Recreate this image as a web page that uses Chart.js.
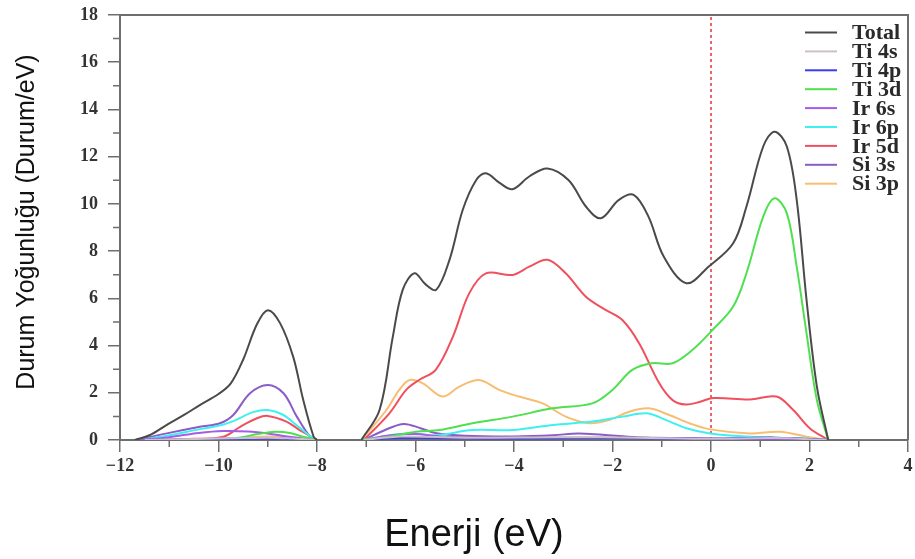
<!DOCTYPE html>
<html>
<head>
<meta charset="utf-8">
<title>Durum Yoğunluğu</title>
<script src="https://cdn.jsdelivr.net/npm/chart.js@4.4.0/dist/chart.umd.min.js"></script>
<style>
    body { margin: 0; background: #fff; }
    #dosChart { display: block; }
</style>
</head>
<body>
<canvas id="dosChart" width="915" height="559"></canvas>
<script>
// energy (eV) / DOS (states/eV) pairs, null = gap between bands
const total = [[-11.7,0],[-11.4,0.2],[-11.05,0.64],[-10.7,1.06],[-10.38,1.48],[-10.0,1.95],[-9.75,2.4],[-9.5,3.4],[-9.22,4.9],[-9.0,5.5],[-8.75,4.95],[-8.48,3.5],[-8.28,1.7],[-8.07,0.15],[-8.0,0],
    [-7.6,null],
    [-7.1,0],[-6.73,1.27],[-6.46,4.38],[-6.26,6.36],[-6.02,7.06],[-5.8,6.6],[-5.58,6.36],[-5.31,7.63],[-5.04,9.75],[-4.77,11.0],[-4.57,11.3],[-4.3,10.9],[-4.03,10.62],[-3.69,11.16],[-3.32,11.5],[-2.89,11.0],[-2.54,9.89],[-2.24,9.39],[-1.87,10.17],[-1.57,10.38],[-1.27,9.46],[-0.96,7.77],[-0.5,6.64],[-0.05,7.34],[0.45,8.33],[0.72,9.89],[1.06,12.43],[1.29,13.06],[1.54,12.43],[1.74,10.17],[1.94,5.93],[2.15,2.26],[2.38,0]];
const ti4s = [[-11.5,0],[-10.5,0.04],[-9.5,0.08],[-9.0,0.1],[-8.5,0.06],[-8.0,0],
    [-7.6,null],
    [-7.05,0],[-6.3,0.15],[-5.0,0.1],[-3.0,0.12],[-1.5,0.1],[0,0.05],[1.3,0.08],[2.35,0]];
const ti4p = [[-11.5,0],[-10.5,0.03],[-9.5,0.05],[-9.0,0.06],[-8.5,0.04],[-8.0,0],
    [-7.6,null],
    [-7.05,0],[-6.3,0.08],[-4.0,0.06],[-2.0,0.08],[0,0.05],[1.3,0.1],[2.35,0]];
const ti3d = [[-11.0,0],[-10.2,0.03],[-9.6,0.1],[-9.2,0.25],[-8.85,0.35],[-8.55,0.3],[-8.3,0.15],[-8.0,0],
    [-7.6,null],
    [-7.1,0],[-6.53,0.14],[-5.99,0.35],[-5.51,0.42],[-4.84,0.71],[-4.03,0.99],[-3.22,1.34],[-2.41,1.55],[-2.0,2.12],[-1.6,2.97],[-1.2,3.25],[-0.78,3.25],[-0.38,3.81],[0.03,4.66],[0.45,5.65],[0.72,7.06],[1.06,9.46],[1.29,10.24],[1.54,9.6],[1.74,7.34],[1.94,4.52],[2.15,1.69],[2.38,0]];
const ir6s = [[-11.6,0],[-11.0,0.12],[-10.4,0.3],[-9.9,0.38],[-9.4,0.36],[-9.0,0.28],[-8.6,0.15],[-8.0,0],
    [-7.6,null],
    [-7.05,0],[-6.5,0.2],[-6.0,0.25],[-5.5,0.15],[-4.5,0.1],[-3.0,0.1],[-1.5,0.08],[0,0.05],[1.3,0.06],[2.35,0]];
const ir6p = [[-11.6,0],[-11.0,0.2],[-10.4,0.45],[-10.0,0.6],[-9.7,0.8],[-9.3,1.18],[-9.0,1.27],[-8.7,1.08],[-8.4,0.6],[-8.1,0.1],[-8.0,0],
    [-7.6,null],
    [-7.1,0],[-6.19,0.28],[-5.6,0.2],[-4.84,0.42],[-4.03,0.42],[-3.22,0.64],[-2.41,0.78],[-1.8,0.99],[-1.3,1.13],[-0.92,0.85],[-0.5,0.5],[-0.02,0.28],[0.79,0.14],[1.8,0.07],[2.38,0]];
const ir5d = [[-11.4,0],[-10.5,0.05],[-9.9,0.14],[-9.56,0.56],[-9.22,0.92],[-9.0,1.02],[-8.62,0.78],[-8.35,0.42],[-8.0,0],
    [-7.6,null],
    [-7.05,0],[-6.53,1.13],[-6.19,2.12],[-5.93,2.54],[-5.59,2.97],[-5.24,4.38],[-4.91,6.21],[-4.57,7.06],[-4.03,6.99],[-3.69,7.34],[-3.32,7.63],[-2.95,7.06],[-2.54,6.07],[-2.14,5.51],[-1.8,5.08],[-1.46,4.1],[-1.05,2.4],[-0.78,1.69],[-0.51,1.5],[-0.22,1.62],[0.05,1.78],[0.79,1.72],[1.33,1.84],[1.67,1.27],[2.01,0.49],[2.38,0]];
const si3s = [[-11.66,0],[-11.05,0.28],[-10.38,0.56],[-9.97,0.71],[-9.7,1.06],[-9.36,1.98],[-9.0,2.33],[-8.68,1.98],[-8.41,0.99],[-8.14,0.14],[-8.0,0],
    [-7.6,null],
    [-7.05,0],[-6.7,0.35],[-6.25,0.68],[-5.9,0.5],[-5.6,0.3],[-5.0,0.18],[-4.0,0.15],[-3.2,0.2],[-2.7,0.28],[-2.2,0.22],[-1.5,0.12],[-0.5,0.08],[0.5,0.05],[1.5,0.05],[2.35,0]];
const si3p = [[-11.0,0],[-10.3,0.03],[-9.5,0.1],[-9.0,0.15],[-8.5,0.1],[-8.0,0],
    [-7.6,null],
    [-7.1,0],[-6.59,1.27],[-6.33,2.12],[-6.12,2.54],[-5.85,2.4],[-5.45,1.84],[-5.11,2.26],[-4.71,2.54],[-4.3,2.12],[-3.9,1.84],[-3.42,1.55],[-2.95,0.99],[-2.47,0.71],[-2.07,0.85],[-1.66,1.2],[-1.26,1.34],[-0.85,1.06],[-0.44,0.71],[-0.02,0.45],[0.79,0.28],[1.4,0.35],[1.94,0.14],[2.38,0]];

const seriesNames = ['Total', 'Ti 4s', 'Ti 4p', 'Ti 3d', 'Ir 6s', 'Ir 6p', 'Ir 5d', 'Si 3s', 'Si 3p'];
const seriesData = [total, ti4s, ti4p, ti3d, ir6s, ir6p, ir5d, si3s, si3p];
const seriesColors = ['#4a4a4a', '#cbbfc8', '#3c3cf0', '#4fe04f', '#a65ce6', '#3ff0f0', '#f0505e', '#8a5cc8', '#f7bd72'];

const fermiLevel = 0;
const xMin = -12, xMax = 4;
const yMin = 0, yMax = 18;

const axisColor = '#6e6e6e';
const serifFont = '"Liberation Serif", "Times New Roman", serif';
const sansFont = '"Liberation Sans", Arial, sans-serif';

const datasets = seriesData.map((pts, i) => ({
    label: seriesNames[i],
    data: pts.map(p => ({ x: p[0], y: p[1] })),
    borderColor: seriesColors[i],
    borderWidth: 2,
    pointRadius: 0,
    fill: false,
    spanGaps: false,
    tension: 0.35
}));

// Fermi level marker
datasets.push({
    label: 'EF',
    data: [{ x: fermiLevel, y: yMin }, { x: fermiLevel, y: yMax }],
    borderColor: '#e8303a',
    borderWidth: 1.5,
    borderDash: [3, 3],
    pointRadius: 0
});

const minus = v => (v < 0 ? '\u2212' + Math.abs(v) : String(v));

// minor ticks + top/right frame
const framePlugin = {
    id: 'framePlugin',
    afterDraw(chart) {
        const { ctx, chartArea: a, scales: { x, y } } = chart;
        ctx.save();
        ctx.strokeStyle = axisColor;
        ctx.lineWidth = 1.5;
        ctx.beginPath();
        for (let v = xMin + 1; v < xMax; v += 2) {
            const px = x.getPixelForValue(v);
            ctx.moveTo(px, a.bottom);
            ctx.lineTo(px, a.bottom + 7);
        }
        for (let v = yMin + 1; v < yMax; v += 2) {
            const py = y.getPixelForValue(v);
            ctx.moveTo(a.left, py);
            ctx.lineTo(a.left - 7, py);
        }
        ctx.stroke();
        ctx.lineWidth = 2;
        ctx.beginPath();
        ctx.moveTo(a.left, a.top);
        ctx.lineTo(a.right, a.top);
        ctx.lineTo(a.right, a.bottom);
        ctx.stroke();
        ctx.restore();
    }
};

// legend in the upper right corner, plus axis titles
const labelsPlugin = {
    id: 'labelsPlugin',
    afterDraw(chart) {
        const { ctx, chartArea: a } = chart;
        ctx.save();
        ctx.font = 'bold 22px ' + serifFont;
        ctx.textBaseline = 'middle';
        ctx.textAlign = 'left';
        seriesNames.forEach((name, i) => {
            const yy = a.top + 17.5 + i * 18.9;
            ctx.strokeStyle = seriesColors[i];
            ctx.lineWidth = 2;
            ctx.beginPath();
            ctx.moveTo(a.right - 103, yy);
            ctx.lineTo(a.right - 71, yy);
            ctx.stroke();
            ctx.fillStyle = '#2a2a2a';
            ctx.fillText(name, a.right - 56, yy + 1);
        });

        ctx.fillStyle = '#111';
        ctx.textAlign = 'center';
        ctx.font = '38px ' + sansFont;
        ctx.fillText('Enerji (eV)', 474, 536);

        ctx.translate(27, 222);
        ctx.rotate(-Math.PI / 2);
        ctx.font = '25px ' + sansFont;
        ctx.fillText('Durum Yoğunluğu (Durum/eV)', 0, 0);
        ctx.restore();
    }
};

new Chart(document.getElementById('dosChart'), {
    type: 'line',
    data: { datasets },
    options: {
        responsive: false,
        animation: false,
        layout: { padding: { top: 15, right: 7, left: 0, bottom: 0 } },
        plugins: {
            legend: { display: false },
            tooltip: { enabled: false }
        },
        scales: {
            x: {
                type: 'linear',
                min: xMin,
                max: xMax,
                afterFit: s => { s.height = 119; s.paddingLeft = 0; s.paddingRight = 0; },
                border: { display: true, color: axisColor, width: 2 },
                grid: { drawOnChartArea: false, drawTicks: true, tickLength: 12, color: axisColor, lineWidth: 1.5 },
                ticks: {
                    stepSize: 2,
                    padding: 4,
                    color: '#333',
                    font: { family: serifFont, size: 18, weight: 'bold' },
                    callback: v => minus(v)
                }
            },
            y: {
                min: yMin,
                max: yMax,
                afterFit: s => { s.width = 120; s.paddingTop = 0; s.paddingBottom = 0; },
                border: { display: true, color: axisColor, width: 2 },
                grid: { drawOnChartArea: false, drawTicks: true, tickLength: 12, color: axisColor, lineWidth: 1.5 },
                ticks: {
                    stepSize: 2,
                    padding: 10,
                    color: '#333',
                    font: { family: serifFont, size: 18, weight: 'bold' },
                    callback: v => minus(v)
                }
            }
        }
    },
    plugins: [framePlugin, labelsPlugin]
});
</script>
</body>
</html>
